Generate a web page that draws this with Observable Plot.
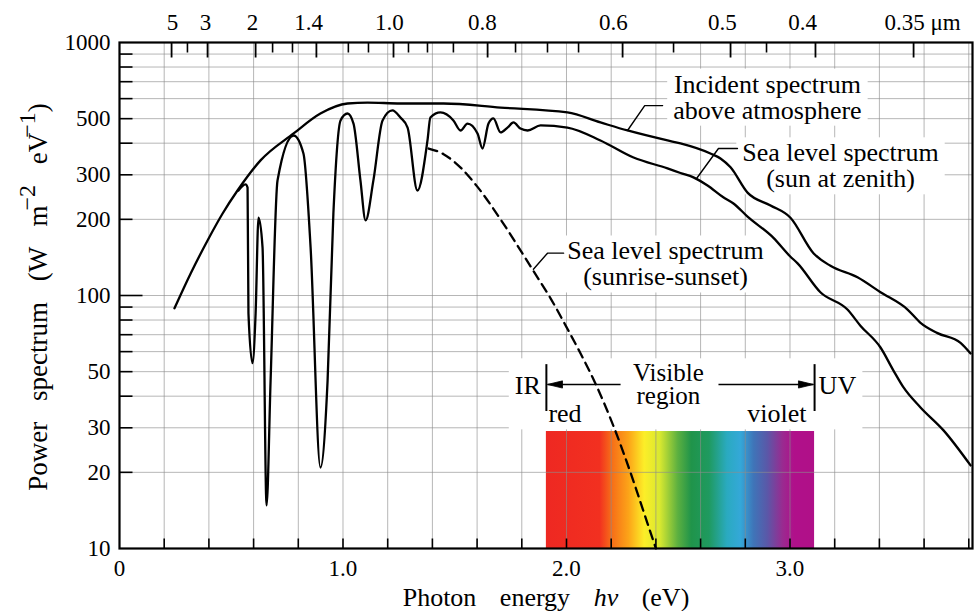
<!DOCTYPE html>
<html><head><meta charset="utf-8">
<script src="https://cdn.jsdelivr.net/npm/d3@7"></script>
<script src="https://cdn.jsdelivr.net/npm/@observablehq/plot@0.6"></script>
<style>html,body{margin:0;padding:0;background:#fff;} #chart{width:979px;height:611px;}</style>
</head><body><div id="chart"></div>
<script>
// ---------- data ----------
const incidentE = [0.246,0.32,0.394,0.46,0.528,0.631,0.779,0.899,1.02,1.11,1.257,1.45,1.705,2.004,2.152,2.273,2.452,2.51,2.644,2.689,2.734,2.81,2.913,3.002,3.105,3.181,3.302,3.405,3.526,3.584,3.66,3.763,3.808];
const incidentP = [89,123,165,210,260,342,437,524,574,579,574,574,553,529,483,449,410,399,364,348,321,255,227,203,147,131,118,103,88,78,71,65,59];

const zenithE = [0.532,0.564,0.573,0.577,0.595,0.609,0.622,0.640,0.658,0.676,0.707,0.779,0.823,0.855,0.899,0.931,0.957,0.989,1.020,1.047,1.078,1.101,1.136,1.177,1.221,1.257,1.289,1.333,1.378,1.391,1.436,1.494,1.526,1.557,1.602,1.624,1.651,1.673,1.705,1.736,1.763,1.794,1.826,1.884,2.004,2.152,2.300,2.452,2.51,2.568,2.631,2.70,2.747,2.81,2.926,3.0,3.034,3.136,3.257,3.315,3.405,3.463,3.508,3.584,3.687,3.808];
const zenithP = [260,275,267,85,54,85,203,155,14.8,46,285,429,364,155,20.9,46,211,492,524,478,285,198,285,492,539,505,461,260,410,505,529,492,449,478,437,381,478,501,441,461,483,457,449,470,461,410,351,318,305,293,272,245,231,205,169,143,134,103,88,76,62.3,50.5,43.3,36.1,29.3,21.3];

const sunsetE = [1.383,1.45,1.53,1.60,1.705,1.80,1.852,1.93,2.00,2.063,2.139,2.21,2.286,2.362,2.40];
const sunsetP = [381,362,318,270,200,148,125,97,75,59,43,30.5,20,12.6,10];

// leader lines of the annotations
const incidentLeaderE = [2.273,2.35,2.43];
const incidentLeaderP = [449,563,563];
const zenithLeaderE = [2.582,2.68,2.765];
const zenithLeaderP = [290,381,381];
const sunsetLeaderE = [1.852,1.915,1.987];
const sunsetLeaderP = [127,147,147];

// visible band
const visBand = [{x1:1.91, x2:3.11, y1:10, y2:29}];
const visStopE = [1.91,2.15,2.20,2.28,2.35,2.42,2.50,2.56,2.64,2.72,2.78,2.84,2.90,2.97,3.02,3.11];
const visStopC = ["#ee2822","#f23020","#f66a18","#fca418","#fcee28","#d8e830","#5cb040","#20944a","#1f9a60","#2aaac0","#34a8d8","#3f74b8","#5a58a8","#9a2a90","#b0108a","#b01088"];
const visBarsE = [1.91,3.11];
const visBarY = [34.8,53.3];
const visArrows = [{x1:2.242,x2:1.915,y:44.5,dir:"left"},{x1:2.68,x2:3.105,y:44.5,dir:"right"}];

// annotations
const annotIncident = [{x:2.899,y:607,t:"Incident spectrum\nabove atmosphere"}];
const annotZenith = [{x:3.226,y:325,t:"Sea level spectrum\n(sun at zenith)"}];
const annotSunset = [{x:2.443,y:133,t:"Sea level spectrum\n(sunrise-sunset)"}];
const annotVisible = [{x:2.456,y:44.1,t:"Visible\nregion"}];
const annotIR = [{x:1.885,y:44.1,t:"IR"}];
const annotUV = [{x:3.128,y:44.1,t:"UV"}];
const annotRed = [{x:1.919,y:34,t:"red"}];
const annotViolet = [{x:3.074,y:34,t:"violet"}];

// axes
const xGrid = [0.2,0.4,0.6,0.8,1.0,1.2,1.4,1.6,1.8,2.0,2.2,2.4,2.6,2.8,3.0,3.2,3.4,3.6,3.8];
const xTickLabels = [0,1,2,3];
const xTickText = ["0","1.0","2.0","3.0"];
const yGrid = [20,30,40,50,60,70,80,90,100,200,300,400,500,600,700,800,900];
const yTicksMinor = [20,30,40,50,60,70,80,90,200,300,400,500,600,700,800,900];
const yTicksMajor = [100];
const yTickValues = [1000,500,300,200,100,50,30,20,10];
const yTickText = ["1000","500","300","200","100","50","30","20","10"];
// top wavelength axis (µm), positions in eV as drawn on the original
const topMajorE = [0.233,0.394,0.609,0.881,1.226,1.647,2.251,2.734,3.114,3.553];
const topMinorE = [0.304,0.685,0.774,1.024,1.114,1.293,1.378,1.494,1.772,1.915,2.054,2.479,2.895];
const topLabelE = [0.237,0.385,0.595,0.846,1.208,1.624,2.210,2.698,3.056,3.593];
const topLabelText = ["5","3","2","1.4","1.0","0.8","0.6","0.5","0.4","0.35 μm"];

// ---------- build ----------
const zip = (E,P) => E.map((e,i)=>({e, p:P[i]}));
const FONT = "'Liberation Serif','Times New Roman',serif";
const sym = (pts) => ({draw(ctx){ctx.moveTo(pts[0][0],pts[0][1]); for (const q of pts.slice(1)) ctx.lineTo(q[0],q[1]);}});
const symClosed = (pts) => ({draw(ctx){ctx.moveTo(pts[0][0],pts[0][1]); for (const q of pts.slice(1)) ctx.lineTo(q[0],q[1]); ctx.closePath();}});
const tickUp = sym([[0,0],[0,-10]]);
const tickDown = sym([[0,0],[0,10]]);
const tickDownLong = sym([[0,0],[0,15]]);
const tickRight = sym([[0,0],[13,0]]);
const tickRightLong = sym([[0,0],[23,0]]);
const headLeft = symClosed([[0,0],[15,-3.6],[15,3.6]]);
const headRight = symClosed([[0,0],[-15,-3.6],[-15,3.6]]);

const textOpts = {x:"x", y:"y", text:"t", fontSize:26, fill:"black", lineHeight:1.0};

const svg = Plot.plot({
  width: 979, height: 611,
  marginLeft: 119, marginRight: 7, marginTop: 42, marginBottom: 63,
  x: {domain: [0, 3.8166], axis: null},
  y: {type: "log", domain: [10, 1000], axis: null},
  style: {fontFamily: FONT, fontSize: "23px", background: "white", color: "black"},
  marks: [
    Plot.rect(visBand, {x1:"x1", x2:"x2", y1:"y1", y2:"y2", fill:"url(#visGrad)"}),
    Plot.ruleX(xGrid, {x: d=>d, stroke:"#8c8c8c", strokeWidth:0.8, strokeOpacity:0.8}),
    Plot.ruleY(yGrid, {y: d=>d, stroke:"#8c8c8c", strokeWidth:0.8, strokeOpacity:0.8}),
    Plot.line(zip(incidentE,incidentP), {x:"e", y:"p", stroke:"black", strokeWidth:2.3, curve:"monotone-x"}),
    Plot.line(zip(zenithE,zenithP), {x:"e", y:"p", stroke:"black", strokeWidth:2.3, curve:"monotone-x"}),
    Plot.line(zip(sunsetE,sunsetP), {x:"e", y:"p", stroke:"black", strokeWidth:2.3, strokeDasharray:"9,6", curve:"monotone-x"}),
    Plot.line(zip(incidentLeaderE,incidentLeaderP), {x:"e", y:"p", stroke:"black", strokeWidth:1.4}),
    Plot.line(zip(zenithLeaderE,zenithLeaderP), {x:"e", y:"p", stroke:"black", strokeWidth:1.4}),
    Plot.line(zip(sunsetLeaderE,sunsetLeaderP), {x:"e", y:"p", stroke:"black", strokeWidth:1.4}),
    Plot.ruleX(visBarsE, {x: d=>d, y1: () => visBarY[0], y2: () => visBarY[1], stroke:"black", strokeWidth:2}),
    Plot.link(visArrows, {x1:"x1", x2:"x2", y1:"y", y2:"y", stroke:"black", strokeWidth:1.6}),
    Plot.dot(visArrows.filter(d=>d.dir==="left"), {x:"x2", y:"y", symbol: headLeft, fill:"black", stroke:"black", strokeWidth:0.8}),
    Plot.dot(visArrows.filter(d=>d.dir==="right"), {x:"x2", y:"y", symbol: headRight, fill:"black", stroke:"black", strokeWidth:0.8}),
    Plot.text(annotIncident, {...textOpts, lineAnchor:"middle"}),
    Plot.text(annotZenith, {...textOpts, lineAnchor:"middle"}),
    Plot.text(annotSunset, {...textOpts, lineAnchor:"middle"}),
    Plot.text(annotVisible, {...textOpts, fontSize:25, lineHeight:0.92, lineAnchor:"middle"}),
    Plot.text(annotIR, {...textOpts, textAnchor:"end", lineAnchor:"middle"}),
    Plot.text(annotUV, {...textOpts, textAnchor:"start", lineAnchor:"middle"}),
    Plot.text(annotRed, {...textOpts, textAnchor:"start", lineAnchor:"middle"}),
    Plot.text(annotViolet, {...textOpts, textAnchor:"end", lineAnchor:"middle"}),
    Plot.dot(xGrid, {x: d=>d, frameAnchor:"bottom", symbol: tickUp, stroke:"black", fill:"none", strokeWidth:1.6}),
    Plot.dot(topMajorE, {x: d=>d, frameAnchor:"top", symbol: tickDownLong, stroke:"black", fill:"none", strokeWidth:1.8}),
    Plot.dot(topMinorE, {x: d=>d, frameAnchor:"top", symbol: tickDown, stroke:"black", fill:"none", strokeWidth:1.6}),
    Plot.dot(yTicksMinor, {y: d=>d, frameAnchor:"left", symbol: tickRight, stroke:"black", fill:"none", strokeWidth:1.6}),
    Plot.dot(yTicksMajor, {y: d=>d, frameAnchor:"left", symbol: tickRightLong, stroke:"black", fill:"none", strokeWidth:1.6}),
    Plot.frame({stroke:"black", strokeWidth:2.2}),
    Plot.text(xTickLabels, {x: d=>d, text: (d,i)=>xTickText[i], frameAnchor:"bottom", dy:20, lineAnchor:"middle", fontSize:23}),
    Plot.text(yTickValues, {y: d=>d, text: (d,i)=>yTickText[i], frameAnchor:"left", textAnchor:"end", dx:-9, lineAnchor:"middle", fontSize:23}),
    Plot.text(topLabelE, {x: d=>d, text: (d,i)=>topLabelText[i], frameAnchor:"top", dy:-20, lineAnchor:"middle", fontSize:23})
  ]
});
document.getElementById("chart").append(svg);

// ---------- post-processing (gradient, text backgrounds, axis titles) ----------
const ns = "http://www.w3.org/2000/svg";
const root = d3.select(svg);
const grad = root.insert("defs", ":first-child").append("linearGradient")
  .attr("id","visGrad").attr("x1","0").attr("x2","1").attr("y1","0").attr("y2","0");
const e0 = visStopE[0], e1 = visStopE[visStopE.length-1];
visStopE.forEach((e,i)=> grad.append("stop").attr("offset", ((e-e0)/(e1-e0)).toFixed(4)).attr("stop-color", visStopC[i]));

// white backgrounds behind annotation blocks (found by their text content)
const groups = [
  [annotIncident], [annotZenith], [annotSunset],
  [annotVisible, annotIR, annotUV, annotRed, annotViolet]
].map(g => g.flat().map(d => d.t.replace(/\n/g, "")));
const sr = svg.getBoundingClientRect();
const texts = Array.from(svg.querySelectorAll("text"));
const firstCurveGroup = Array.from(svg.children).find(el => el.tagName.toLowerCase() === "g" && el.querySelector("path"));
for (const strs of groups) {
  let b = null;
  for (const t of texts) {
    if (!strs.includes(t.textContent)) continue;
    const r = t.getBoundingClientRect();
    const nb = {x0:r.left-sr.left, y0:r.top-sr.top, x1:r.right-sr.left, y1:r.bottom-sr.top};
    b = b ? {x0:Math.min(b.x0,nb.x0), y0:Math.min(b.y0,nb.y0), x1:Math.max(b.x1,nb.x1), y1:Math.max(b.y1,nb.y1)} : nb;
  }
  if (b && firstCurveGroup) {
    const rect = document.createElementNS(ns, "rect");
    rect.setAttribute("x", b.x0-6); rect.setAttribute("y", b.y0-1);
    rect.setAttribute("width", b.x1-b.x0+12); rect.setAttribute("height", b.y1-b.y0+2);
    rect.setAttribute("fill", "white");
    svg.insertBefore(rect, firstCurveGroup);
  }
}

const yl = root.append("text")
  .attr("transform","translate(47,297) rotate(-90)")
  .attr("text-anchor","middle")
  .style("font-family", FONT).style("font-size","27px").style("word-spacing","14px").attr("fill","black");
yl.append("tspan").text("Power spectrum (W m");
yl.append("tspan").attr("dy",-12).attr("dx",-5).style("font-size","24px").text("−2");
yl.append("tspan").attr("dy",12).text(" eV");
yl.append("tspan").attr("dy",-12).attr("dx",-5).style("font-size","24px").text("−1");
yl.append("tspan").attr("dy",12).text(")");

const xl = root.append("text")
  .attr("x", 546).attr("y", 606)
  .attr("text-anchor","middle")
  .style("font-family", FONT).style("font-size","26px").style("word-spacing","17px").attr("fill","black");
xl.append("tspan").text("Photon energy ");
xl.append("tspan").style("font-style","italic").text("hν");
xl.append("tspan").text(" (eV)");
</script></body></html>
